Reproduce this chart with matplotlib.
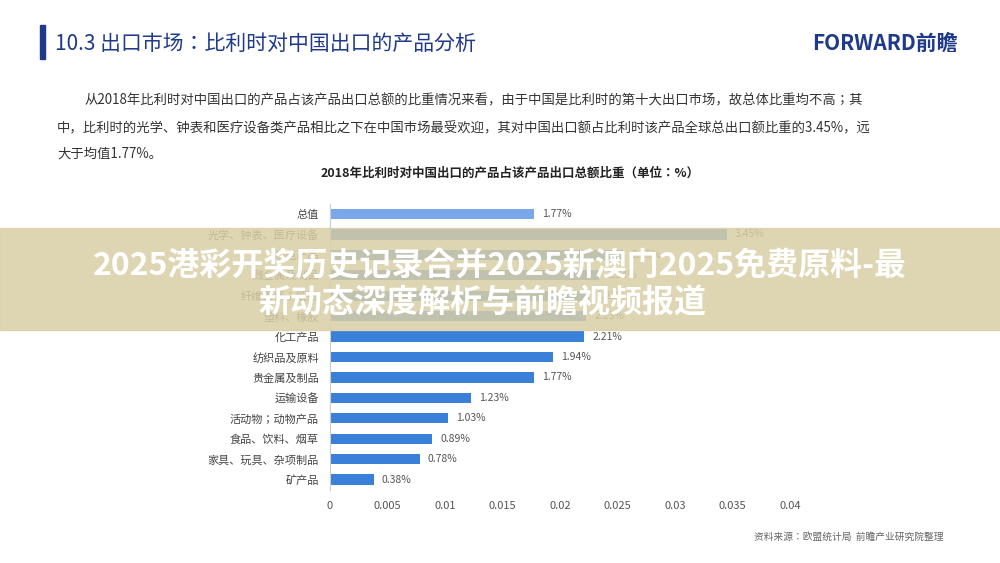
import matplotlib
matplotlib.use("Agg")
import matplotlib.pyplot as plt
from matplotlib.patches import Rectangle
from matplotlib import font_manager as fm

cjk = sorted({f.name for f in fm.fontManager.ttflist if "CJK" in f.name and "Sans" in f.name})
pref = "Noto Sans CJK SC" if "Noto Sans CJK SC" in cjk else (cjk[0] if cjk else "DejaVu Sans")
plt.rcParams["font.family"] = "sans-serif"
plt.rcParams["font.sans-serif"] = [pref, "DejaVu Sans"]

categories = ["总值", "光学、钟表、医疗设备", "机电产品", "贱金属及制品", "纤维素浆；纸张",
              "塑料、橡胶", "化工产品", "纺织品及原料", "贵金属及制品", "运输设备",
              "活动物；动物产品", "食品、饮料、烟草", "家具、玩具、杂项制品", "矿产品"]
values = [1.77, 3.45, 2.55, 2.34, 2.25, 2.23, 2.21, 1.94, 1.77, 1.23, 1.03, 0.89, 0.78, 0.38]
xticks = [0, 0.005, 0.01, 0.015, 0.02, 0.025, 0.03, 0.035, 0.04]
xticklabels = ["0", "0.005", "0.01", "0.015", "0.02", "0.025", "0.03", "0.035", "0.04"]

fig = plt.figure(figsize=(10, 5.63), dpi=100)
fig.patch.set_facecolor("white")

# header
fig.add_artist(Rectangle((0.040, 0.895), 0.005, 0.06, transform=fig.transFigure, color="#1f3a8a"))
fig.text(0.055, 0.922, "10.3 出口市场：比利时对中国出口的产品分析", fontsize=15, color="#1f3a8a", va="center")
fig.text(0.958, 0.922, "FORWARD前瞻", fontsize=15, color="#1f3a8a", va="center", ha="right", weight="bold")
para = ["从2018年比利时对中国出口的产品占该产品出口总额的比重情况来看，由于中国是比利时的第十大出口市场，故总体比重均不高；其",
        "中，比利时的光学、钟表和医疗设备类产品相比之下在中国市场最受欢迎，其对中国出口额占比利时该产品全球总出口额比重的3.45%，远",
        "大于均值1.77%。"]
fig.text(0.085, 0.822, para[0], fontsize=9.6, color="#333333", va="center")
fig.text(0.057, 0.772, para[1], fontsize=9.6, color="#333333", va="center")
fig.text(0.057, 0.727, para[2], fontsize=9.6, color="#333333", va="center")
fig.text(0.51, 0.693, "2018年比利时对中国出口的产品占该产品出口总额比重（单位：%）", fontsize=9,
         weight="bold", ha="center", va="center", color="#222222")

ax = fig.add_axes([0.33, 0.13, 0.46, 0.508])
y = list(range(len(categories)))
colors = ["#7aa6ea"] + ["#3a7fd8"] * (len(categories) - 1)
ax.barh(y, [v / 100 for v in values], height=0.5, color=colors)
for yi, v in zip(y, values):
    ax.text(v / 100 + 0.0007, yi, f"{v:.2f}%", va="center", fontsize=7.5, color="#555555")
ax.set_yticks(y)
ax.set_yticklabels(categories, fontsize=8, color="#444444")
ax.set_ylim(len(categories) - 0.5, -0.5)
ax.set_xlim(0, 0.04)
ax.set_xticks(xticks)
ax.set_xticklabels(xticklabels, fontsize=8, color="#555555")
for s in ["top", "right", "bottom"]:
    ax.spines[s].set_visible(False)
ax.spines["left"].set_color("#cccccc")
ax.tick_params(length=0, pad=8)

fig.text(0.943, 0.042, "资料来源：欧盟统计局  前瞻产业研究院整理", fontsize=7, color="#666666", ha="right")

# overlay banner
fig.add_artist(Rectangle((0, 0.414), 1, 0.181, transform=fig.transFigure, color="#d9cfa6", alpha=0.85))
fig.text(0.5, 0.528, "2025港彩开奖历史记录合并2025新澳门2025免费原料-最", fontsize=23, weight="bold",
         color="white", ha="center", va="center")
fig.text(0.258, 0.462, "新动态深度解析与前瞻视频报道", fontsize=23, weight="bold",
         color="white", ha="left", va="center")

fig.savefig("out.png", dpi=100)
